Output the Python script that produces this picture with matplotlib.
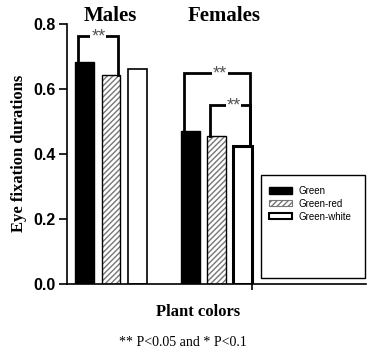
import numpy as np
import matplotlib.pyplot as plt
from matplotlib.patches import Patch, Rectangle

# data
groups = ["Males", "Females"]
series = ["Green", "Green-red", "Green-white"]
green = [0.684, 0.471]
green_red = [0.643, 0.455]
green_white = [0.662, 0.425]
yticks = [0.0, 0.2, 0.4, 0.6, 0.8]

# brackets: (group, bar i, bar j, height, label)
brackets = [(0, 0, 1, 0.763, "**"), (1, 0, 2, 0.649, "**"), (1, 1, 2, 0.551, "**")]

serif = "Liberation Serif"
sans = "Liberation Sans"

W, H = 378, 356
fig = plt.figure(figsize=(W / 100, H / 100), dpi=100)
ax = fig.add_axes([67 / W, 1 - 284 / H, (366 - 67) / W, 260 / H])

x = np.arange(len(groups))
offs = [-0.25, 0.0, 0.25]
bw = 0.18
vals = [green, green_red, green_white]

ax.bar(x + offs[0], green, bw, color="black", edgecolor="black", lw=1)
ax.bar(x + offs[1], green_red, bw, color="white", edgecolor="#777777", hatch="//////", lw=0)
ax.bar(x + offs[1], green_red, bw, color="none", edgecolor="black", lw=1)
ax.bar(x + offs[2], green_white, bw, color="white", edgecolor="black", lw=1.2)
# thicker edge on the females white bar, as in the original
ax.bar(x[1:] + offs[2], green_white[1:], bw, color="none", edgecolor="black", lw=2.2)

for g, i, j, h, lab in brackets:
    xl = x[g] + offs[i] - 0.06
    xr = x[g] + offs[j] + 0.07
    ax.plot([xl, xl, xr, xr], [vals[i][g], h, h, vals[j][g]], color="black", lw=2,
            solid_joinstyle="miter", zorder=3)
    ax.text((xl + xr) / 2 if g == 0 else (xl + xr) / 2 + 0.03, h - 0.004, lab, ha="center",
            va="center", fontsize=13, color="#555555", family=sans, zorder=4,
            bbox=dict(facecolor="white", edgecolor="none", pad=0.5))

ax.set_xlim(-0.417, 2.417)
ax.set_ylim(0, 0.8)
ax.set_yticks(yticks)
ax.set_yticklabels([f"{t:.1f}" for t in yticks], fontsize=11.5, fontweight="bold", family=sans)
ax.set_xticks([1.336])
ax.set_xticklabels([""])
ax.tick_params(axis="y", length=6, width=1.2, pad=2)
ax.tick_params(axis="x", length=4, width=1.2)
for s in ["top", "right"]:
    ax.spines[s].set_visible(False)
for s in ["left", "bottom"]:
    ax.spines[s].set_linewidth(1.2)

# group titles
for g, tx in zip(groups, [110, 224]):
    fig.text(tx / W, 1 - 16 / H, g, ha="center", va="center", fontsize=15,
             fontweight="bold", family=serif)

fig.text(19 / W, 1 - 153 / H, "Eye fixation durations", rotation=90, ha="center",
         va="center", fontsize=12, fontweight="bold", family=serif)
fig.text(198 / W, 1 - 312 / H, "Plant colors", ha="center", va="center", fontsize=12,
         fontweight="bold", family=serif)
fig.text(183 / W, 1 - 342 / H, "** P<0.05 and * P<0.1", ha="center", va="center",
         fontsize=10, family=serif)

# legend with large frame
fig.patches.append(Rectangle((261 / W, 1 - 278 / H), 104 / W, 103 / H, transform=fig.transFigure,
                             facecolor="white", edgecolor="black", lw=1, zorder=5))
handles = [Patch(facecolor="black", edgecolor="black"),
           Patch(facecolor="white", edgecolor="#777777", hatch="//////", lw=0.8),
           Patch(facecolor="white", edgecolor="black", lw=1.5)]
leg = fig.legend(handles, series, loc="upper left", bbox_to_anchor=(264 / W, 1 - 181 / H),
                 frameon=False, prop={"family": sans, "size": 7}, handlelength=2.4,
                 handleheight=0.6, labelspacing=0.3, handletextpad=0.6, borderpad=0)
leg.set_zorder(6)

fig.savefig("out.png", dpi=100)
